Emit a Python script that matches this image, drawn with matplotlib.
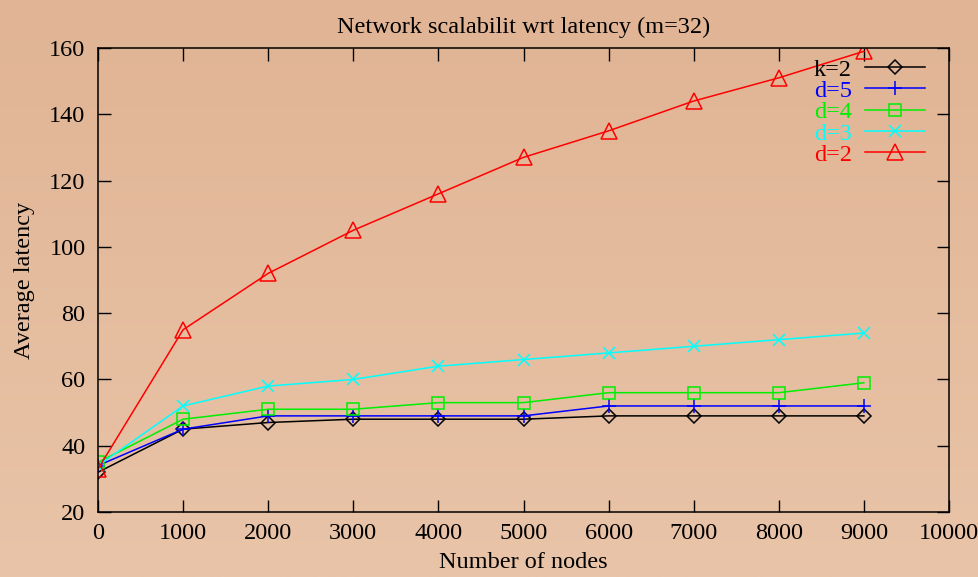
import numpy as np
import matplotlib
matplotlib.use("Agg")
import matplotlib.pyplot as plt

plt.rcParams["font.family"] = ["Liberation Serif", "DejaVu Serif"]

nodes = [0, 1000, 2000, 3000, 4000, 5000, 6000, 7000, 8000, 9000]
k2 = [32, 45, 47, 48, 48, 48, 49, 49, 49, 49]
d5 = [34, 45, 49, 49, 49, 49, 52, 52, 52, 52]
d4 = [35, 48, 51, 51, 53, 53, 56, 56, 56, 59]
d3 = [34, 52, 58, 60, 64, 66, 68, 70, 72, 74]
d2 = [33, 75, 92, 105, 116, 127, 135, 144, 151, 159]

series = [
    ("k=2", k2, "black", "D", 7),
    ("d=5", d5, "#0000ff", "+", 10),
    ("d=4", d4, "#00ee00", "s", 9),
    ("d=3", d3, "#00ffff", "x", 9),
    ("d=2", d2, "#ff0000", "^", 11),
]

xticks = list(range(0, 10001, 1000))
yticks = list(range(20, 161, 20))

FS = 17.5

fig = plt.figure(figsize=(9.79, 5.77), dpi=100)

# warm vertical gradient behind everything
bg = fig.add_axes([0, 0, 1, 1], zorder=-10)
top = np.array([224, 180, 148]) / 255
bottom = np.array([233, 196, 168]) / 255
t = np.linspace(0, 1, 256)[:, None]
grad = top[None, :] * (1 - t) + bottom[None, :] * t
bg.imshow(grad[:, None, :], aspect="auto", extent=[0, 1, 0, 1])
bg.axis("off")

ax = fig.add_axes([98 / 979, 65 / 577, 851 / 979, 464 / 577])
ax.set_facecolor("none")

for label, vals, color, marker, ms in series:
    ax.plot(nodes, vals, color=color, lw=1.1, marker=marker, ms=ms,
            mfc="none", mec=color, mew=1.1, label=label)

ax.set_xlim(0, 10000)
ax.set_ylim(20, 160)
ax.set_xticks(xticks)
ax.set_yticks(yticks)
ax.tick_params(direction="in", length=9, width=1, top=True, right=True,
               labelsize=FS, colors="black", pad=8)
ax.tick_params(axis="y", pad=9)
for s in ax.spines.values():
    s.set_linewidth(1.1)

ax.set_title("Network scalabilit wrt latency (m=32)", fontsize=FS, pad=11)
ax.set_xlabel("Number of nodes", fontsize=FS, labelpad=6)
ax.set_ylabel("Average latency", fontsize=FS, labelpad=10)

leg = ax.legend(loc="upper right", bbox_to_anchor=(0.983, 0.998), frameon=False,
                markerfirst=False, labelcolor="linecolor", fontsize=FS,
                handlelength=2.45, handletextpad=0.55, labelspacing=-0.03,
                borderaxespad=0.0)

fig.savefig("out.png", dpi=100)
